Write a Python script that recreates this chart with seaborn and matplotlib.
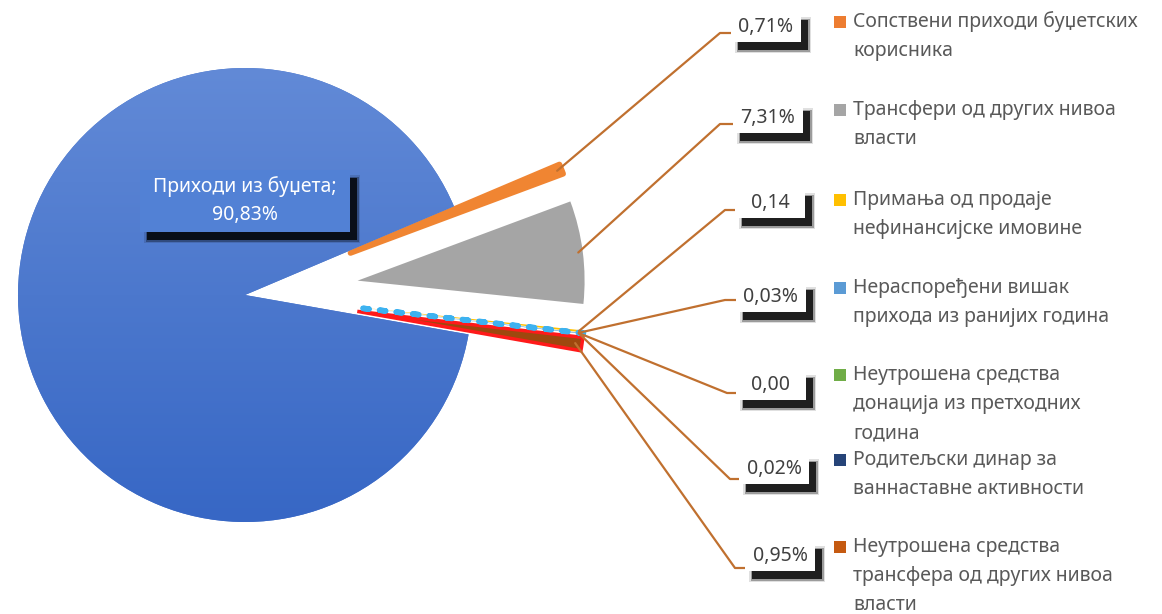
import numpy as np
import matplotlib
matplotlib.use("Agg")
import matplotlib.pyplot as plt
from matplotlib.patches import Rectangle
from matplotlib.colors import LinearSegmentedColormap
import seaborn as sns

# ---------------- data ----------------
categories = [
    "Приходи из буџета",
    "Сопствени приходи буџетских корисника",
    "Трансфери од других нивоа власти",
    "Примања од продаје нефинансијске имовине",
    "Нераспоређени вишак прихода из ранијих година",
    "Неутрошена средства донација из претходних година",
    "Родитељски динар за ваннаставне активности",
    "Неутрошена средства трансфера од других нивоа власти",
]
values = [90.83, 0.71, 7.31, 0.14, 0.03, 0.00, 0.02, 0.95]
value_labels = ["90,83%", "0,71%", "7,31%", "0,14", "0,03%", "0,00", "0,02%", "0,95%"]
legend_lines = [
    ["Сопствени приходи буџетских", "корисника"],
    ["Трансфери од других нивоа", "власти"],
    ["Примања од продаје", "нефинансијске имовине"],
    ["Нераспоређени вишак", "прихода из ранијих година"],
    ["Неутрошена средства", "донација из претходних", "година"],
    ["Родитељски динар за", "ваннаставне активности"],
    ["Неутрошена средства", "трансфера од других нивоа", "власти"],
]
colors = ["#4A76CB", "#F08532", "#A5A5A5", "#FFC000", "#3DB2F0",
          "#70AD47", "#264478", "#9E480E"]
legend_colors = ["#ED7D31", "#A5A5A5", "#FFC000", "#5B9BD5",
                 "#70AD47", "#264478", "#C55A11"]

# ---------------- layout ----------------
sns.set_style("white")
plt.rcParams['font.family'] = ['Noto Sans', 'DejaVu Sans']

W, H = 1162, 614
fig = plt.figure(figsize=(W / 100, H / 100), dpi=100)
ax = fig.add_axes([0, 0, 1, 1])

R = 227
CX, CY = 245, H - 295
explode = [0] + [0.5 * R] * (len(values) - 1)

wedges, _ = ax.pie(values, explode=explode, colors=colors, startangle=-10,
                   counterclock=False, radius=R, center=(CX, CY),
                   wedgeprops=dict(linewidth=0))

# gradient fill of the main slice
grad = np.linspace(0, 1, 256).reshape(-1, 1)
cmap = LinearSegmentedColormap.from_list("bl", ["#3767C5", "#4C78CD", "#628AD7"])
im = ax.imshow(grad, extent=[CX - R, CX + R, CY - R, CY + R], origin="lower",
               cmap=cmap, aspect="auto", zorder=1.5, interpolation="bilinear")
im.set_clip_path(wedges[0])

ax.set_xlim(0, W)
ax.set_ylim(0, H)
ax.set_aspect('equal')
ax.axis('off')

# special edges as in reference
wedges[1].set_edgecolor("#F08532")
wedges[1].set_linewidth(4)
wedges[1].set_joinstyle('round')
wedges[7].set_edgecolor("#FF1A1A")
wedges[7].set_linewidth(2.5)
wedges[7].set_zorder(2)
wedges[4].set_edgecolor("#3DB2F0")
wedges[4].set_linestyle((0, (1, 2)))
wedges[4].set_linewidth(4)
wedges[4].set_capstyle('round')
wedges[4].set_zorder(3)


def shadow_box(x0, y0, w, h, face, dx=7, dy=8, z=5):
    # soft dark shadow
    for k, a in [(3, 0.12), (1.5, 0.3), (0, 0.8)]:
        ax.add_patch(Rectangle((x0 + dx - k, y0 - dy - k), w + 2 * k, h + 2 * k,
                               facecolor="black", edgecolor="none", alpha=a, zorder=z))
    ax.add_patch(Rectangle((x0, y0), w, h, facecolor=face, edgecolor="none", zorder=z + 1))


# big label
bx0, bx1, by0, by1 = 140, 350, H - 232, H - 170
shadow_box(bx0, by0, bx1 - bx0, by1 - by0, "#5281D5")
ax.text((bx0 + bx1) / 2, H - 187, categories[0] + ";", ha="center", va="center",
        color="white", fontsize=14, zorder=8)
ax.text((bx0 + bx1) / 2, H - 215, value_labels[0], ha="center", va="center",
        color="white", fontsize=14, zorder=8)

# small labels with leader lines
label_centers = [(766, 27), (768, 118), (770, 203), (771, 297),
                 (771, 385), (774, 469), (780, 556)]
elbows = [(720, 33), (720, 124), (725, 210), (725, 300),
          (727, 393), (730, 479), (735, 568)]
start_frac = [0.98, 0.98, 0.98, 0.98, 0.98, 0.98, 0.97]
bw, bh = 70, 30
for i in range(1, len(values)):
    w = wedges[i]
    th = np.deg2rad((w.theta1 + w.theta2) / 2)
    sx = w.center[0] + w.r * start_frac[i - 1] * np.cos(th)
    sy = w.center[1] + w.r * start_frac[i - 1] * np.sin(th)
    cx, cy = label_centers[i - 1]
    ex, ey = elbows[i - 1]
    x0 = cx - bw / 2
    ax.plot([sx, ex, x0 + 2], [sy, H - ey, H - ey], color="#C0702F",
            lw=1.6, zorder=4, solid_capstyle="round")
    shadow_box(x0, H - cy - bh / 2, bw, bh, "white")
    ax.text(cx, H - cy, value_labels[i], ha="center", va="center",
            color="#404040", fontsize=14, zorder=8)

# legend
first_y = [22, 110, 200, 288, 375, 460, 547]
line_h = 29
for i, lines in enumerate(legend_lines):
    y = first_y[i]
    ax.add_patch(Rectangle((834, H - y - 6), 12, 12, facecolor=legend_colors[i],
                           edgecolor="none", zorder=6))
    for j, t in enumerate(lines):
        ax.text(853, H - (y + j * line_h), t, ha="left", va="center",
                color="#595959", fontsize=14, zorder=6)

fig.savefig("out.png", dpi=100)
